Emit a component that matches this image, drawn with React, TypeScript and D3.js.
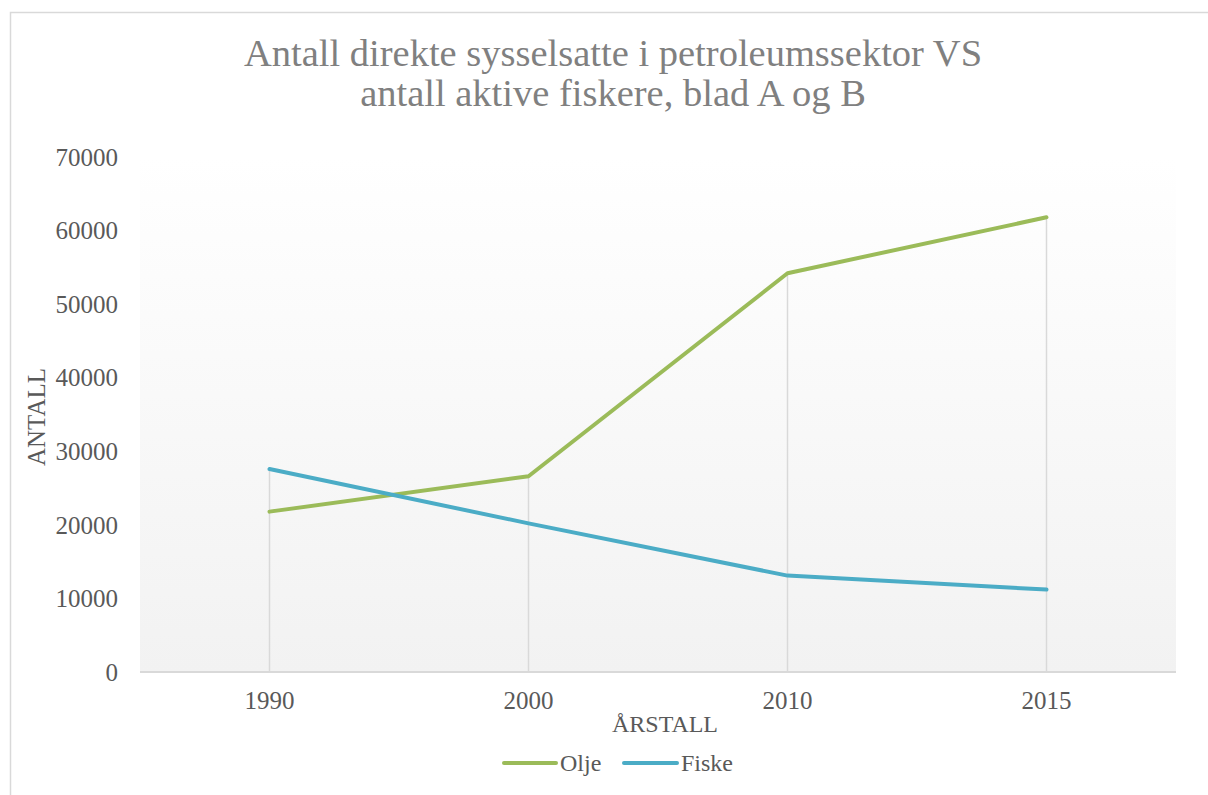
import React from "react";
import * as d3 from "d3";

const categories = ["1990", "2000", "2010", "2015"];
const olje = [21800, 26600, 54200, 61800];
const fiske = [27600, 20200, 13100, 11200];
const yTicks = [0, 10000, 20000, 30000, 40000, 50000, 60000, 70000];
const titleLines = ["Antall direkte sysselsatte i petroleumssektor VS", "antall aktive fiskere, blad A og B"];

const W = 1208;
const H = 795;
const plot = { left: 140, right: 1176, top: 157, bottom: 672 };
const FONT = "'Liberation Serif', 'Times New Roman', serif";

export default function App() {
  const x = d3.scaleBand<string>().domain(categories).range([plot.left, plot.right]).padding(0);
  const y = d3.scaleLinear().domain([0, 70000]).range([plot.bottom, plot.top]);
  const cx = (c: string) => (x(c) as number) + x.bandwidth() / 2;
  const line = d3
    .line<number>()
    .x((_, i) => cx(categories[i]))
    .y((d) => y(d));

  const series = [
    { name: "Olje", values: olje, color: "#9bbb59" },
    { name: "Fiske", values: fiske, color: "#4bacc6" },
  ];

  return (
    <svg
      width={W}
      height={H}
      style={{ position: "absolute", left: 0, top: 0, background: "#fff" }}
      fontFamily={FONT}
    >
      <defs>
        <linearGradient id="bg" x1="0" y1="0" x2="0" y2="1">
          <stop offset="0%" stopColor="#ffffff" />
          <stop offset="100%" stopColor="#f2f2f2" />
        </linearGradient>
      </defs>
      <rect x={10.5} y={12.5} width={W + 20} height={H + 20} fill="#fff" stroke="#d9d9d9" strokeWidth={1.5} />
      <rect
        x={plot.left}
        y={plot.top}
        width={plot.right - plot.left}
        height={plot.bottom - plot.top}
        fill="url(#bg)"
      />
      {titleLines.map((t, i) => (
        <text key={i} x={613} y={66 + i * 40} textAnchor="middle" fontSize={38.5} fill="#808080">
          {t}
        </text>
      ))}
      {yTicks.map((t) => (
        <text key={t} x={118} y={y(t)} dy="0.35em" textAnchor="end" fontSize={25} fill="#595959">
          {t}
        </text>
      ))}
      {categories.map((c, i) => {
        const top = Math.max(olje[i], fiske[i]);
        return (
          <line
            key={c}
            x1={cx(c)}
            x2={cx(c)}
            y1={y(top)}
            y2={y(0)}
            stroke="#d9d9d9"
            strokeWidth={1.5}
          />
        );
      })}
      <line x1={plot.left} x2={plot.right} y1={plot.bottom} y2={plot.bottom} stroke="#d9d9d9" strokeWidth={2} />
      {categories.map((c) => (
        <text key={c} x={cx(c)} y={709} textAnchor="middle" fontSize={25} fill="#595959">
          {c}
        </text>
      ))}
      {series.map((s) => (
        <path
          key={s.name}
          d={line(s.values) as string}
          fill="none"
          stroke={s.color}
          strokeWidth={4}
          strokeLinecap="round"
          strokeLinejoin="round"
        />
      ))}
      <text x={665} y={732} textAnchor="middle" fontSize={24} fill="#595959">
        ÅRSTALL
      </text>
      <text
        transform={`translate(45, 417) rotate(-90)`}
        textAnchor="middle"
        fontSize={25}
        fill="#595959"
      >
        ANTALL
      </text>
      <g>
        <line x1={504} x2={556} y1={763} y2={763} stroke="#9bbb59" strokeWidth={4} strokeLinecap="round" />
        <text x={560} y={771} fontSize={24} fill="#595959">Olje</text>
        <line x1={624} x2={677} y1={763} y2={763} stroke="#4bacc6" strokeWidth={4} strokeLinecap="round" />
        <text x={681} y={771} fontSize={24} fill="#595959">Fiske</text>
      </g>
    </svg>
  );
}
